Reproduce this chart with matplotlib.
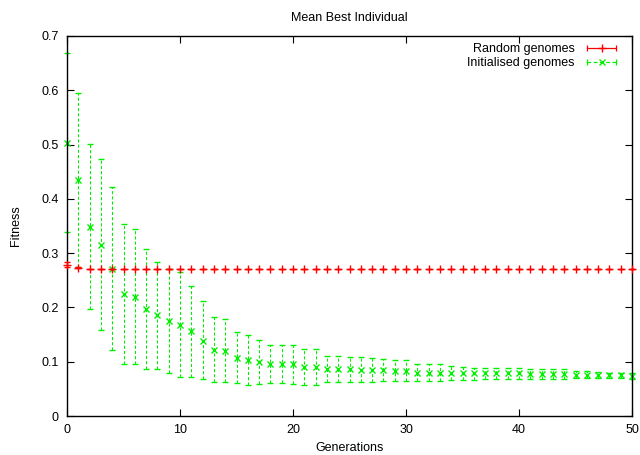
import matplotlib
matplotlib.use('Agg')
import matplotlib.pyplot as plt
from matplotlib.lines import Line2D
from matplotlib.legend_handler import HandlerLine2D, HandlerTuple
import numpy as np

plt.rcParams['font.family'] = ['Liberation Sans', 'DejaVu Sans']

generations = list(range(51))

# random genomes: mean best fitness and error range
rand_mean = [0.278, 0.273, 0.271] + [0.270] * 48
rand_low = [0.274, 0.272] + [0.271] + [0.270] * 48
rand_high = [0.283, 0.274] + [0.271] + [0.270] * 48

# initialised genomes
init_mean = [0.503, 0.435, 0.348, 0.315, 0.271, 0.225, 0.219, 0.197, 0.186, 0.175,
             0.168, 0.157, 0.139, 0.122, 0.120, 0.107, 0.103, 0.099, 0.096, 0.096,
             0.095, 0.091, 0.091, 0.087, 0.087, 0.086, 0.085, 0.085, 0.084, 0.083,
             0.083, 0.080, 0.080, 0.080, 0.080, 0.079, 0.079, 0.079, 0.079, 0.079,
             0.079, 0.078, 0.078, 0.077, 0.077, 0.076, 0.076, 0.075, 0.075, 0.075,
             0.074]
init_high = [0.668, 0.595, 0.501, 0.473, 0.422, 0.354, 0.345, 0.308, 0.283, 0.270,
             0.266, 0.240, 0.211, 0.183, 0.179, 0.155, 0.149, 0.140, 0.131, 0.130,
             0.130, 0.124, 0.124, 0.111, 0.111, 0.109, 0.108, 0.107, 0.105, 0.104,
             0.104, 0.096, 0.096, 0.096, 0.092, 0.091, 0.088, 0.088, 0.088, 0.088,
             0.088, 0.087, 0.087, 0.086, 0.086, 0.083, 0.082, 0.081, 0.080, 0.080,
             0.079]
init_low = [0.339, 0.274, 0.197, 0.158, 0.121, 0.096, 0.096, 0.086, 0.087, 0.079,
            0.072, 0.072, 0.068, 0.063, 0.063, 0.061, 0.057, 0.059, 0.060, 0.060,
            0.059, 0.058, 0.058, 0.062, 0.062, 0.062, 0.062, 0.063, 0.064, 0.064,
            0.064, 0.065, 0.065, 0.065, 0.066, 0.066, 0.067, 0.068, 0.068, 0.068,
            0.068, 0.068, 0.069, 0.069, 0.069, 0.070, 0.070, 0.070, 0.070, 0.070,
            0.069]

red = '#ff0000'
green = '#00f000'

fig = plt.figure(figsize=(6.4, 4.55), dpi=100)
ax = fig.add_axes([0.1047, 0.0857, 0.8828, 0.8352])

x = np.array(generations)
gm = np.array(init_mean)
g_err = [gm - np.array(init_low), np.array(init_high) - gm]
eb = ax.errorbar(x, gm, yerr=g_err, fmt='x', color=green, ms=4.5, mew=1,
                 ecolor=green, elinewidth=0.75, capsize=2, capthick=0.75,
                 zorder=2)
eb[2][0].set_linestyle((0, (3, 2)))
for art in list(eb[1]) + list(eb[2]) + [eb[0]]:
    art.set_clip_on(False)

rm = np.array(rand_mean)
r_err = [rm - np.array(rand_low), np.array(rand_high) - rm]
eb2 = ax.errorbar(x, rm, yerr=r_err, fmt='+', color=red, ms=5.5, mew=1,
                  ecolor=red, elinewidth=0.75, capsize=2, capthick=0.75,
                  zorder=3)
for art in list(eb2[1]) + list(eb2[2]) + [eb2[0]]:
    art.set_clip_on(False)

ax.set_xlim(0, 50)
ax.set_ylim(0, 0.7)
ax.set_xticks([0, 10, 20, 30, 40, 50])
ax.set_yticks([0, 0.1, 0.2, 0.3, 0.4, 0.5, 0.6, 0.7])
ax.set_yticklabels(['0', '0.1', '0.2', '0.3', '0.4', '0.5', '0.6', '0.7'])
ax.tick_params(direction='in', length=5, width=0.8, top=True, right=True,
               labelsize=9, pad=6)
for s in ax.spines.values():
    s.set_linewidth(1)

ax.set_title('Mean Best Individual', fontsize=9, pad=11)
ax.set_xlabel('Generations', fontsize=9, labelpad=4)
ax.set_ylabel('Fitness', fontsize=9, labelpad=14)

# gnuplot-style key: line with end caps, marker in the middle
r_line = Line2D([], [], color=red, lw=0.9, marker='|', ms=5, mew=0.9)
r_pt = Line2D([], [], color=red, ls='none', marker='+', ms=5.5, mew=1)
g_line = Line2D([], [], color=green, lw=0.9, ls=(0, (3, 2)), marker='|', ms=5, mew=0.9)
g_pt = Line2D([], [], color=green, ls='none', marker='x', ms=4.5, mew=1)
hmap = {r_line: HandlerLine2D(numpoints=2), g_line: HandlerLine2D(numpoints=2),
        r_pt: HandlerLine2D(numpoints=1), g_pt: HandlerLine2D(numpoints=1),
        tuple: HandlerTuple(ndivide=1)}
ax.legend([(r_line, r_pt), (g_line, g_pt)], ['Random genomes', 'Initialised genomes'],
          handler_map=hmap, loc='upper right', bbox_to_anchor=(0.9947, 1.0053),
          frameon=False, markerfirst=False,
          fontsize=9, handlelength=2.9, labelspacing=0.15, borderaxespad=0.55,
          handletextpad=0.7, borderpad=0.2)

fig.savefig('out.png', dpi=100)
